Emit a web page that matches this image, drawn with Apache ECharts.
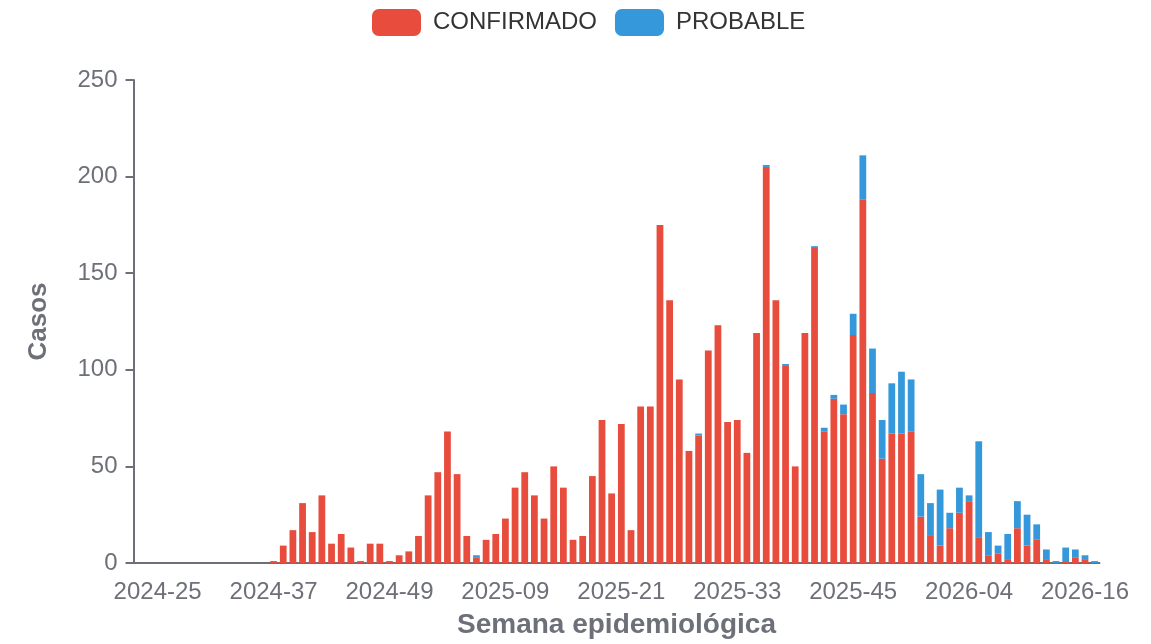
<!DOCTYPE html>
<html>
<head>
<meta charset="utf-8">
<script src="https://cdn.jsdelivr.net/npm/echarts@6/dist/echarts.min.js"></script>
<style>
  html, body { margin: 0; padding: 0; background: #fff; }
  #chart { width: 1151px; height: 644px; }
</style>
</head>
<body>
<div id="chart"></div>
<script>
// semanas epidemiológicas (2025 con semana 53)
const weeks = [
  '2024-23', '2024-24', '2024-25', '2024-26', '2024-27', '2024-28', '2024-29', '2024-30', '2024-31', '2024-32',
  '2024-33', '2024-34', '2024-35', '2024-36', '2024-37', '2024-38', '2024-39', '2024-40', '2024-41', '2024-42',
  '2024-43', '2024-44', '2024-45', '2024-46', '2024-47', '2024-48', '2024-49', '2024-50', '2024-51', '2024-52',
  '2025-01', '2025-02', '2025-03', '2025-04', '2025-05', '2025-06', '2025-07', '2025-08', '2025-09', '2025-10',
  '2025-11', '2025-12', '2025-13', '2025-14', '2025-15', '2025-16', '2025-17', '2025-18', '2025-19', '2025-20',
  '2025-21', '2025-22', '2025-23', '2025-24', '2025-25', '2025-26', '2025-27', '2025-28', '2025-29', '2025-30',
  '2025-31', '2025-32', '2025-33', '2025-34', '2025-35', '2025-36', '2025-37', '2025-38', '2025-39', '2025-40',
  '2025-41', '2025-42', '2025-43', '2025-44', '2025-45', '2025-46', '2025-47', '2025-48', '2025-49', '2025-50',
  '2025-51', '2025-52', '2025-53', '2026-01', '2026-02', '2026-03', '2026-04', '2026-05', '2026-06', '2026-07',
  '2026-08', '2026-09', '2026-10', '2026-11', '2026-12', '2026-13', '2026-14', '2026-15', '2026-16', '2026-17'
];

// etiquetas que se muestran en el eje x
const shownLabels = ['2024-25', '2024-37', '2024-49', '2025-09', '2025-21', '2025-33', '2025-45', '2026-04', '2026-16'];

const confirmado = [
  0, 0, 0, 0, 0, 0, 0, 0, 0, 0,
  0, 0, 0, 0, 1, 9, 17, 31, 16, 35,
  10, 15, 8, 1, 10, 10, 1, 4, 6, 14,
  35, 47, 68, 46, 14, 3, 12, 15, 23, 39,
  47, 35, 23, 50, 39, 12, 14, 45, 74, 36,
  72, 17, 81, 81, 175, 136, 95, 58, 66, 110,
  123, 73, 74, 57, 119, 205, 136, 102, 50, 119,
  163, 68, 85, 77, 118, 188, 88, 54, 67, 67,
  68, 24, 14, 9, 18, 26, 32, 13, 4, 5,
  2, 18, 9, 12, 2, 0, 1, 3, 2, 0
];

const probable = [
  0, 0, 0, 0, 0, 0, 0, 0, 0, 0,
  0, 0, 0, 0, 0, 0, 0, 0, 0, 0,
  0, 0, 0, 0, 0, 0, 0, 0, 0, 0,
  0, 0, 0, 0, 0, 1, 0, 0, 0, 0,
  0, 0, 0, 0, 0, 0, 0, 0, 0, 0,
  0, 0, 0, 0, 0, 0, 0, 0, 1, 0,
  0, 0, 0, 0, 0, 1, 0, 1, 0, 0,
  1, 2, 2, 5, 11, 23, 23, 20, 26, 32,
  27, 22, 17, 29, 8, 13, 3, 50, 12, 4,
  13, 14, 16, 8, 5, 1, 7, 4, 2, 1
];

const yTicks = [0, 50, 100, 150, 200, 250];

const axisGray = '#6e7079';
const font = '"Liberation Sans", Helvetica, Arial, sans-serif';

const chart = echarts.init(document.getElementById('chart'), null, { renderer: 'canvas' });

const showWeek = (idx, val) => shownLabels.indexOf(val !== undefined ? val : weeks[idx]) !== -1;

const option = {
  animation: false,
  textStyle: { fontFamily: font },
  legend: {
    data: ['CONFIRMADO', 'PROBABLE'],
    left: 367,
    top: 4,
    icon: 'roundRect',
    itemWidth: 49,
    itemHeight: 27,
    itemGap: 18,
    textStyle: {
      fontFamily: font,
      fontSize: 24,
      color: '#333',
      padding: [0, 0, 0, 7]
    }
  },
  grid: {
    left: 133.5,
    right: 51.5,
    top: 80,
    bottom: 79,
    containLabel: false
  },
  xAxis: {
    type: 'category',
    data: weeks,
    name: 'Semana epidemiológica',
    nameLocation: 'middle',
    nameGap: 48,
    nameTextStyle: { fontFamily: font, fontSize: 28, fontWeight: 'bold', color: axisGray },
    axisLine: { lineStyle: { color: axisGray, width: 2 } },
    axisTick: {
      alignWithLabel: true,
      length: 8,
      interval: (idx) => showWeek(idx),
      lineStyle: { color: axisGray, width: 2 }
    },
    axisLabel: {
      interval: (idx, val) => showWeek(idx, val),
      fontFamily: font,
      fontSize: 24,
      color: axisGray,
      margin: 17
    },
    splitLine: { show: false }
  },
  yAxis: {
    type: 'value',
    min: yTicks[0],
    max: yTicks[yTicks.length - 1],
    interval: 50,
    name: 'Casos',
    nameLocation: 'middle',
    nameGap: 82,
    nameTextStyle: { fontFamily: font, fontSize: 26, fontWeight: 'bold', color: axisGray },
    axisLine: { show: true, lineStyle: { color: axisGray, width: 2 } },
    axisTick: { show: true, length: 8, lineStyle: { color: axisGray, width: 2 } },
    axisLabel: { fontFamily: font, fontSize: 24, color: axisGray, margin: 16 },
    splitLine: { show: false }
  },
  series: [
    {
      name: 'CONFIRMADO',
      type: 'bar',
      stack: 'casos',
      data: confirmado,
      barWidth: '70%',
      itemStyle: { color: '#e74c3c' }
    },
    {
      name: 'PROBABLE',
      type: 'bar',
      stack: 'casos',
      data: probable,
      barWidth: '70%',
      itemStyle: { color: '#3498db' }
    }
  ]
};

chart.setOption(option);
</script>
</body>
</html>
